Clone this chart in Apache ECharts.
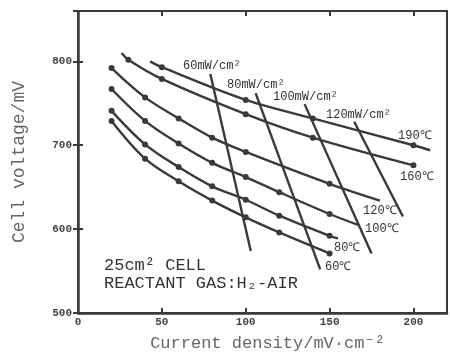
<!DOCTYPE html>
<html>
<head>
<meta charset="utf-8">
<script src="https://cdn.jsdelivr.net/npm/echarts@6/dist/echarts.min.js"></script>
<style>
  html, body { margin: 0; padding: 0; background: #fff; }
  #chart { width: 450px; height: 357px; }
</style>
</head>
<body>
<div id="chart"></div>
<script>
// temperature curves (cell voltage vs current density)
const curveNames = ['190℃', '160℃', '120℃', '100℃', '80℃', '60℃'];
const curveX = [
  [43, 50, 100, 140, 200, 210],
  [26, 30, 50, 100, 140, 200],
  [20, 40, 60, 80, 100, 150, 180],
  [20, 40, 60, 80, 100, 120, 150, 167],
  [20, 40, 60, 80, 100, 120, 150, 155],
  [20, 40, 60, 80, 100, 120, 150],
];
const curveY = [
  [800, 793, 754, 732, 700, 694],
  [810, 802, 779, 737, 709, 676],
  [792, 757, 732, 709, 692, 654, 634],
  [767, 729, 702, 679, 662, 644, 618, 605],
  [741, 701, 674, 651, 635, 616, 592, 589],
  [729, 684, 657, 634, 614, 596, 571],
];
// 1 = measured point (marker drawn), 0 = line end only
const curveMarked = [
  [0, 1, 1, 1, 1, 0],
  [0, 1, 1, 1, 1, 1],
  [1, 1, 1, 1, 1, 1, 0],
  [1, 1, 1, 1, 1, 1, 1, 0],
  [1, 1, 1, 1, 1, 1, 1, 0],
  [1, 1, 1, 1, 1, 1, 1],
];

// constant power density lines
const powerNames = ['60mW/cm²', '80mW/cm²', '100mW/cm²', '120mW/cm²'];
const powerX = [[78.9, 103], [105.9, 144.4], [135.1, 175], [164.7, 193.7]];
const powerY = [[785, 574], [762, 552], [749, 571], [728, 615]];

const ink = '#3a3a3a';
const mono = "'Liberation Mono', 'DejaVu Sans Mono', monospace";

const chart = echarts.init(document.getElementById('chart'), null, { renderer: 'canvas' });

const series = [];
curveNames.forEach((name, i) => {
  series.push({
    name: name,
    type: 'line',
    smooth: 0.35,
    symbol: 'circle',
    symbolSize: 6,
    itemStyle: { color: ink },
    lineStyle: { color: ink, width: 2.4 },
    data: curveX[i].map((x, j) => ({
      value: [x, curveY[i][j]],
      symbol: curveMarked[i][j] ? 'circle' : 'none',
    })),
    z: 3,
  });
});
powerNames.forEach((name, i) => {
  series.push({
    name: name,
    type: 'line',
    symbol: 'none',
    lineStyle: { color: ink, width: 2.4 },
    data: powerX[i].map((x, j) => [x, powerY[i][j]]),
    z: 2,
  });
});

// text labels (pixel positions)
const labelText = (text, x, y, size, bold) => ({
  type: 'text',
  x: x,
  y: y,
  style: {
    text: text,
    font: (bold ? 'bold ' : '') + size + 'px ' + mono,
    fill: '#333',
    verticalAlign: 'middle',
    align: 'left',
  },
  z: 10,
});

const option = {
  animation: false,
  grid: {
    left: 78, right: 2, top: 11, bottom: 41,
    show: true, borderColor: ink, borderWidth: 2,
  },
  xAxis: [
    {
      type: 'value', min: 0, max: 220, interval: 50, position: 'bottom',
      axisLine: { show: true, lineStyle: { color: ink, width: 2.5 } },
      axisTick: { show: true, inside: true, length: 5, lineStyle: { color: ink, width: 2 } },
      axisLabel: {
        color: '#444', fontSize: 11, fontFamily: mono, fontWeight: 'bold', margin: 4,
        formatter: (v) => (v % 50 === 0 ? String(v) : ''),
      },
      splitLine: { show: false },
      name: 'Current density/mV·cm⁻²',
      nameLocation: 'middle',
      nameGap: 22,
      nameTextStyle: { color: '#666', fontSize: 17, fontFamily: mono, padding: [0, 0, 0, 10] },
    },
    {
      type: 'value', min: 0, max: 220, interval: 50, position: 'top',
      axisLine: { show: true, lineStyle: { color: ink, width: 2 } },
      axisTick: { show: true, inside: true, length: 5, lineStyle: { color: ink, width: 2 } },
      axisLabel: { show: false },
      splitLine: { show: false },
    },
  ],
  yAxis: [
    {
      type: 'value', min: 500, max: 860, interval: 100, position: 'left',
      axisLine: { show: true, lineStyle: { color: ink, width: 2.5 } },
      axisTick: { show: true, inside: true, length: 5, lineStyle: { color: ink, width: 2 } },
      axisLabel: {
        color: '#444', fontSize: 11, fontFamily: mono, fontWeight: 'bold', margin: 6,
        formatter: (v) => (v % 100 === 0 ? String(v) : ''),
      },
      splitLine: { show: false },
      name: 'Cell voltage/mV',
      nameLocation: 'middle',
      nameGap: 50,
      nameTextStyle: { color: '#666', fontSize: 18, fontFamily: mono },
    },
    {
      type: 'value', min: 500, max: 860, interval: 100, position: 'right',
      axisLine: { show: true, lineStyle: { color: ink, width: 2 } },
      axisTick: { show: true, inside: true, length: 5, lineStyle: { color: ink, width: 2 } },
      axisLabel: { show: false },
      splitLine: { show: false },
    },
  ],
  graphic: [
    labelText('60mW/cm²', 183, 66, 12, false),
    labelText('80mW/cm²', 227, 85, 12, false),
    labelText('100mW/cm²', 273, 97, 12, false),
    labelText('120mW/cm²', 326, 115, 12, false),
    labelText('190℃', 398, 136, 12, false),
    labelText('160℃', 400, 177, 12, false),
    labelText('120℃', 363, 211, 12, false),
    labelText('100℃', 365, 229, 12, false),
    labelText('80℃', 334, 248, 12, false),
    labelText('60℃', 325, 267, 12, false),
    labelText('25cm² CELL', 104, 265, 17, false),
    labelText('REACTANT GAS:H₂-AIR', 104, 283, 17, false),
  ],
  series: series,
};

chart.setOption(option);
</script>
</body>
</html>
